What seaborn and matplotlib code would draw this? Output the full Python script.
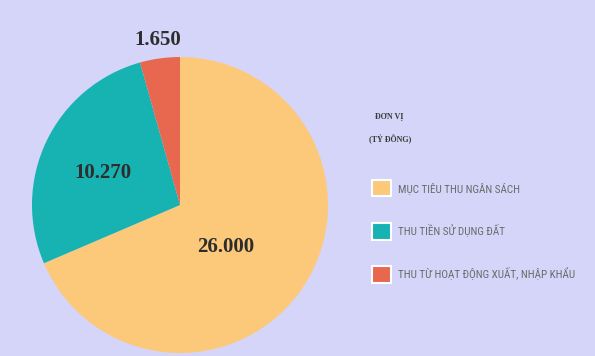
import matplotlib
matplotlib.use("Agg")
import matplotlib.pyplot as plt
import seaborn as sns
from matplotlib.patches import Patch

categories = ["MỤC TIÊU THU NGÂN SÁCH", "THU TIỀN SỬ DỤNG ĐẤT", "THU TỪ HOẠT ĐỘNG XUẤT, NHẬP KHẨU"]
values = [26000, 10270, 1650]
value_labels = ["26.000", "10.270", "1.650"]
unit_lines = ["ĐƠN VỊ", "(TỶ ĐỒNG)"]

sns.set_theme(style="white")
plt.rcParams['font.family'] = ['DejaVu Sans']
colors = sns.color_palette(["#fcc97b", "#17b2b2", "#e8684f"])
bg = "#d5d5f9"

fig = plt.figure(figsize=(5.95, 3.56), dpi=100, facecolor=bg)
ax = fig.add_axes([32/595, 3/356, 296/595, 296/356])
ax.set_facecolor(bg)
wedges, _ = ax.pie(values, colors=colors, startangle=90, counterclock=False,
                   radius=1.0, wedgeprops=dict(linewidth=0))
ax.set_aspect('equal')
ax.set_xlim(-1, 1)
ax.set_ylim(-1, 1)
ax.axis('off')

# value labels
pos = [(0.31, -0.284), (-0.524, 0.216), (-0.15, 1.115)]
for (x, y), t in zip(pos, value_labels):
    ax.text(x, y, t, ha='center', va='center', fontsize=15, fontweight='bold',
            family=['Liberation Serif'], color='#2d2d2d', clip_on=False)

fig.text(375/595, 1-117/356, unit_lines[0], fontsize=5.8, fontweight='bold',
         family=['Liberation Serif'], color='#3a3a3a', va='center', ha='left')
fig.text(369/595, 1-139/356, unit_lines[1], fontsize=5.8, fontweight='bold',
         family=['Liberation Serif'], color='#3a3a3a', va='center', ha='left')

handles = [Patch(facecolor=c, edgecolor='white', linewidth=1.5) for c in colors]
leg = fig.legend(handles, categories, loc='upper left', bbox_to_anchor=(362/595, 1-170/356),
                 frameon=False, handlelength=1.75, handleheight=1.9, labelspacing=2.4,
                 handletextpad=0.55,
                 prop=dict(family=['Roboto Condensed', 'DejaVu Sans Condensed', 'Roboto'],
                           stretch='condensed', size=8))
for t in leg.get_texts():
    t.set_color('#6a6a6a')

fig.savefig("out.png", dpi=100, facecolor=bg)
